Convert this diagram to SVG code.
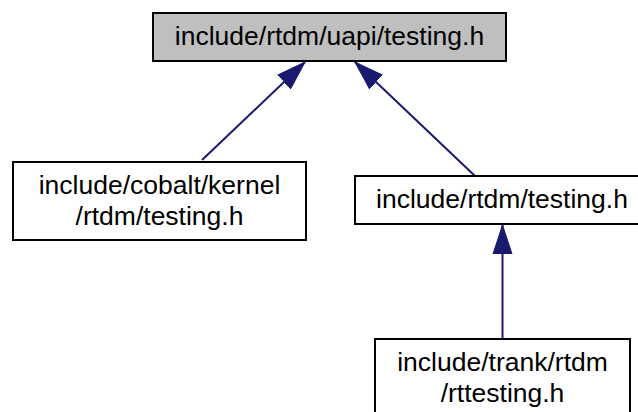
<svg xmlns="http://www.w3.org/2000/svg" width="638" height="412" viewBox="0 0 638 412">
<defs>
<style>
.box{fill:#ffffff;stroke:#000000;stroke-width:2}
.root{fill:#bfbfbf}
.lbl{font-family:"Liberation Sans",Arial,Helvetica,sans-serif;font-size:26.5px;fill:#000000;text-anchor:middle}
.edge{fill:none;stroke:#191970;stroke-width:2}
</style>
<marker id="ah" markerUnits="userSpaceOnUse" markerWidth="32" markerHeight="22" viewBox="0 -11 32 22" refX="29" refY="0" orient="auto">
<path d="M0,-9.5 L29,0 L0,9.5 Z" fill="#191970" stroke="#191970" stroke-width="1"/>
</marker>
</defs>
<rect width="638" height="412" fill="#ffffff"/>
<g id="connectors">
<path class="edge" d="M202,160 L305,62" marker-end="url(#ah)"/>
<path class="edge" d="M475,176 L355,62" marker-end="url(#ah)"/>
<path class="edge" d="M502.5,338 L502.5,225" marker-end="url(#ah)"/>
</g>
<g id="node-uapi-testing">
<rect class="box root" x="153" y="13" width="353" height="48"/>
<text class="lbl" x="329.5" y="45">include/rtdm/uapi/testing.h</text>
</g>
<g id="node-cobalt-testing">
<rect class="box" x="13" y="162" width="293" height="78"/>
<text class="lbl" x="159.5" y="194">include/cobalt/kernel</text>
<text class="lbl" x="159.5" y="225">/rtdm/testing.h</text>
</g>
<g id="node-rtdm-testing">
<rect class="box" x="355" y="176" width="294" height="48"/>
<text class="lbl" x="502" y="208">include/rtdm/testing.h</text>
</g>
<g id="node-trank-rttesting">
<rect class="box" x="375" y="339" width="255" height="80"/>
<text class="lbl" x="502.5" y="371">include/trank/rtdm</text>
<text class="lbl" x="502.5" y="402">/rttesting.h</text>
</g>
</svg>
